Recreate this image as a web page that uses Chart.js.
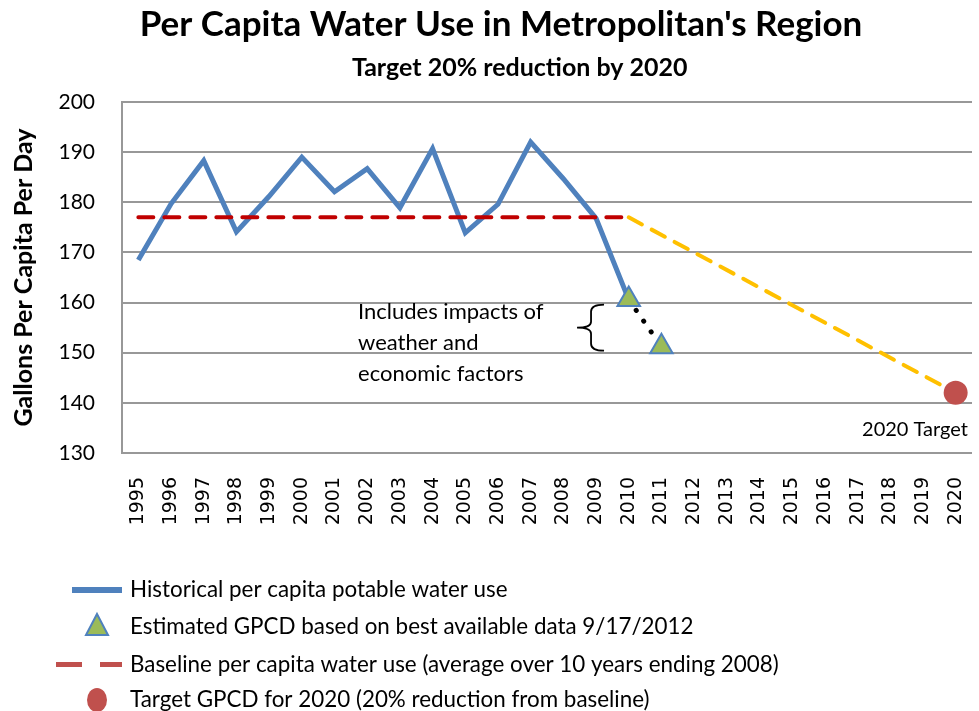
<!DOCTYPE html>
<html>
<head>
<meta charset="utf-8">
<title>Per Capita Water Use</title>
<script src="https://cdn.jsdelivr.net/npm/chart.js@4.4.1/dist/chart.umd.min.js"></script>
<style>
  html, body { margin: 0; padding: 0; background: #ffffff; }
</style>
</head>
<body>
<canvas id="gpcdchart" width="979" height="711"></canvas>
<script>
// years on the x axis
var years = ['1995', '1996', '1997', '1998', '1999', '2000', '2001', '2002', '2003',
  '2004', '2005', '2006', '2007', '2008', '2009', '2010', '2011', '2012', '2013',
  '2014', '2015', '2016', '2017', '2018', '2019', '2020'];

// historical GPCD, 1995 - 2010
var historical = [168.5, 179.7, 188.3, 174.1, 181.2, 189.0, 182.1, 186.7, 178.9,
  190.7, 173.9, 179.6, 192.0, 184.7, 176.8, 160.6];

// estimated GPCD (triangles)
var estimatedYears = ['2010', '2011'];
var estimated = [160.6, 151.2];

// baseline (10 yr average), drawn 1995 - 2010
var baselineYears = ['1995', '2010'];
var baseline = [177, 177];

// glide path to the 2020 target
var pathYears = ['2010', '2020'];
var pathValues = [177, 142];

var targetYears = ['2020'];
var target = [142];

var yTicks = [130, 140, 150, 160, 170, 180, 190, 200];

var legendLabels = [
  'Historical per capita potable water use',
  'Estimated GPCD based on best available data 9/17/2012',
  'Baseline per capita water use (average over 10 years ending 2008)',
  'Target GPCD for 2020 (20% reduction from baseline)'
];

var noteLines = ['Includes impacts of', 'weather and', 'economic factors'];
var targetNote = '2020 Target';

var blue = '#4F81BD';
var darkRed = '#C00000';
var lightRed = '#C0504D';
var gold = '#FFC000';
var green = '#9BBB59';
var gridGray = '#989898';

function pairs(xs, ys) {
  var out = [];
  for (var i = 0; i < xs.length; i++) {
    out.push({ x: xs[i], y: ys[i] });
  }
  return out;
}

// brace, note text and "2020 Target" label
var notesPlugin = {
  id: 'notes',
  afterDatasetsDraw: function (chart) {
    var ctx = chart.ctx;
    var xs = chart.scales.x;
    var ys = chart.scales.y;
    var area = chart.chartArea;
    ctx.save();

    // brace just left of 2009 / 2010
    var bx = xs.getPixelForValue(14);
    var top = ys.getPixelForValue(159.6);
    var bot = ys.getPixelForValue(150.4);
    var mid = (top + bot) / 2;
    ctx.strokeStyle = '#000';
    ctx.lineWidth = 1.8;
    ctx.beginPath();
    ctx.moveTo(bx + 8, top);
    ctx.quadraticCurveTo(bx - 5, top, bx - 5, top + 7);
    ctx.lineTo(bx - 5, mid - 6);
    ctx.quadraticCurveTo(bx - 5, mid, bx - 19, mid);
    ctx.quadraticCurveTo(bx - 5, mid, bx - 5, mid + 6);
    ctx.lineTo(bx - 5, bot - 7);
    ctx.quadraticCurveTo(bx - 5, bot, bx + 8, bot);
    ctx.stroke();

    // note text
    ctx.fillStyle = '#000';
    ctx.font = '22px Lato';
    ctx.textAlign = 'left';
    ctx.textBaseline = 'middle';
    var nx = xs.getPixelForValue(6.72);
    var ny = ys.getPixelForValue(158.1);
    for (var i = 0; i < noteLines.length; i++) {
      ctx.fillText(noteLines[i], nx, ny + i * 31);
    }

    // 2020 target label
    ctx.font = '20px Lato';
    ctx.textAlign = 'right';
    ctx.fillText(targetNote, area.right - 4, ys.getPixelForValue(134.6));
    ctx.restore();
  }
};

// legend drawn as a plain list under the chart
var legendPlugin = {
  id: 'listLegend',
  afterDraw: function (chart) {
    var ctx = chart.ctx;
    var rows = [590, 627, 665, 700];
    var textX = 130;
    ctx.save();

    // blue line
    ctx.strokeStyle = blue;
    ctx.lineWidth = 6;
    ctx.beginPath();
    ctx.moveTo(72, rows[0]);
    ctx.lineTo(122, rows[0]);
    ctx.stroke();

    // triangle
    ctx.fillStyle = green;
    ctx.strokeStyle = blue;
    ctx.lineWidth = 2;
    ctx.beginPath();
    ctx.moveTo(97, rows[1] - 13);
    ctx.lineTo(108, rows[1] + 8);
    ctx.lineTo(86, rows[1] + 8);
    ctx.closePath();
    ctx.fill();
    ctx.stroke();

    // dashes
    ctx.fillStyle = lightRed;
    ctx.fillRect(56, rows[2] - 3, 26, 5);
    ctx.fillRect(100, rows[2] - 3, 22, 5);

    // dot
    ctx.beginPath();
    ctx.ellipse(97, rows[3], 10, 12, 0, 0, Math.PI * 2);
    ctx.fill();

    ctx.fillStyle = '#000';
    ctx.font = '22.4px Lato';
    ctx.textAlign = 'left';
    ctx.textBaseline = 'middle';
    for (var i = 0; i < legendLabels.length; i++) {
      ctx.fillText(legendLabels[i], textX, rows[i]);
    }
    ctx.restore();
  }
};

var ctx = document.getElementById('gpcdchart');

new Chart(ctx, {
  type: 'line',
  data: {
    labels: years,
    datasets: [
      {
        label: legendLabels[0],
        data: historical,
        borderColor: blue,
        borderWidth: 5,
        pointRadius: 0,
        fill: false,
        order: 4
      },
      {
        label: legendLabels[2],
        data: pairs(baselineYears, baseline),
        borderColor: darkRed,
        borderWidth: 4,
        borderDash: [15, 11],
        borderCapStyle: 'round',
        pointRadius: 0,
        fill: false,
        order: 3
      },
      {
        label: 'Path to target',
        data: pairs(pathYears, pathValues),
        borderColor: gold,
        borderWidth: 4,
        borderDash: [15, 11],
        borderCapStyle: 'round',
        pointRadius: 0,
        fill: false,
        order: 3
      },
      {
        label: legendLabels[1],
        data: pairs(estimatedYears, estimated),
        borderColor: '#000',
        borderWidth: 5,
        borderDash: [0.1, 13],
        borderCapStyle: 'round',
        pointStyle: 'triangle',
        pointRadius: 13,
        pointBackgroundColor: green,
        pointBorderColor: blue,
        pointBorderWidth: 2,
        fill: false,
        order: 1
      },
      {
        label: legendLabels[3],
        data: pairs(targetYears, target),
        showLine: false,
        pointStyle: 'circle',
        pointRadius: 12,
        pointBackgroundColor: lightRed,
        pointBorderColor: lightRed,
        pointBorderWidth: 0,
        order: 1
      }
    ]
  },
  options: {
    responsive: false,
    animation: false,
    layout: { autoPadding: false, padding: { left: 30, right: 7, top: 0, bottom: 0 } },
    plugins: {
      legend: { display: false },
      tooltip: { enabled: false },
      title: {
        display: true,
        text: "Per Capita Water Use in Metropolitan's Region",
        color: '#000',
        font: { family: 'Lato', size: 35, weight: 'bold', lineHeight: 1.2 },
        padding: { top: 4, bottom: 7 }
      },
      subtitle: {
        display: true,
        text: '\u2003\u2003Target 20% reduction by 2020',
        color: '#000',
        font: { family: 'Lato', size: 25, weight: 'bold', lineHeight: 1.2 },
        padding: { top: 0, bottom: 19 }
      }
    },
    scales: {
      x: {
        offset: true,
        grid: { display: false, drawTicks: false },
        border: { display: false },
        ticks: {
          color: '#000',
          autoSkip: false,
          minRotation: 90,
          maxRotation: 90,
          padding: 24,
          font: { family: 'DejaVu Sans', size: 19 }
        },
        afterFit: function (scale) {
          scale.height = 258;
          scale.paddingLeft = 0;
          scale.paddingRight = 0;
        }
      },
      y: {
        min: 130,
        max: 200,
        afterBuildTicks: function (scale) {
          scale.ticks = yTicks.map(function (v) { return { value: v }; });
        },
        grid: { color: gridGray, lineWidth: 2, drawTicks: false },
        border: { display: true, color: gridGray, width: 2 },
        ticks: {
          color: '#000',
          padding: 27,
          font: { family: 'Lato', size: 21 }
        },
        title: {
          display: true,
          text: 'Gallons Per Capita Per Day',
          color: '#000',
          font: { family: 'Lato', size: 25, weight: 'bold', lineHeight: 1.2 },
          padding: { top: -21, bottom: 0 }
        },
        afterFit: function (scale) {
          scale.width = 92;
        }
      }
    }
  },
  plugins: [notesPlugin, legendPlugin]
});
</script>
</body>
</html>
